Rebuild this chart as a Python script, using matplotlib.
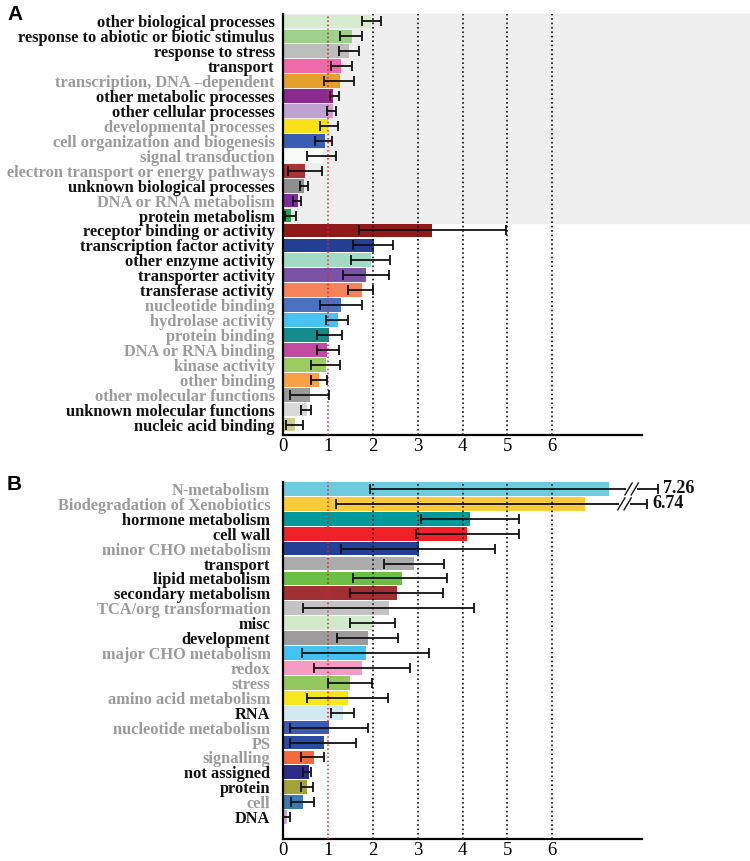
import matplotlib
import matplotlib.pyplot as plt
import numpy as np

matplotlib.use("Agg")

# ---- panel A data ----
a_labels = ['other biological processes', 'response to abiotic or biotic stimulus',
            'response to stress', 'transport', 'transcription, DNA \u2013dependent',
            'other metabolic processes', 'other cellular processes',
            'developmental processes', 'cell organization and biogenesis',
            'signal transduction', 'electron transport or energy pathways',
            'unknown biological processes', 'DNA or RNA metabolism', 'protein metabolism',
            'receptor binding or activity', 'transcription factor activity',
            'other enzyme activity', 'transporter activity', 'transferase activity',
            'nucleotide binding', 'hydrolase activity', 'protein binding',
            'DNA or RNA binding', 'kinase activity', 'other binding',
            'other molecular functions', 'unknown molecular functions', 'nucleic acid binding']
a_values = [1.96, 1.53, 1.47, 1.30, 1.27, 1.12, 1.11, 1.01, 0.93, 0.90, 0.50, 0.47, 0.33, 0.17,
            3.33, 2.03, 1.97, 1.86, 1.76, 1.29, 1.23, 1.03, 0.99, 0.96, 0.80, 0.60, 0.53, 0.27]
a_low = [1.76, 1.28, 1.25, 1.06, 0.91, 1.04, 0.98, 0.82, 0.72, 0.54, 0.12, 0.38, 0.23, 0.04,
         1.69, 1.56, 1.51, 1.33, 1.45, 0.82, 0.96, 0.75, 0.75, 0.62, 0.62, 0.16, 0.41, 0.06]
a_high = [2.18, 1.75, 1.69, 1.53, 1.58, 1.24, 1.18, 1.23, 1.09, 1.19, 0.86, 0.56, 0.41, 0.28,
          4.98, 2.45, 2.38, 2.36, 2.01, 1.75, 1.45, 1.32, 1.25, 1.28, 0.99, 1.02, 0.62, 0.45]
a_colors = ['#d6ebcf', '#9dd08b', '#bdbdbd', '#ef6aa8', '#e3a02c', '#8b2a8e', '#c0a2d2',
            '#f7e219', '#3a5db1', '#f8faf8', '#a83236', '#8e8e8e', '#7e2c9b', '#27a04a',
            '#8e1a1c', '#233f94', '#a3dac3', '#7a52a6', '#f4825a', '#4b70c0', '#46c3f1',
            '#158b8b', '#c04ba0', '#9ccb62', '#f7a046', '#9a9a9a', '#d9d9d9', '#cccc96']
a_gray = [0, 0, 0, 0, 1, 0, 0, 1, 1, 1, 1, 0, 1, 0,
          0, 0, 0, 0, 0, 1, 1, 1, 1, 1, 1, 1, 0, 0]
n_bio = 14

# ---- panel B data ----
b_labels = ['N-metabolism', 'Biodegradation of Xenobiotics', 'hormone metabolism', 'cell wall',
            'minor CHO metabolism', 'transport', 'lipid metabolism', 'secondary metabolism',
            'TCA/org transformation', 'misc', 'development', 'major CHO metabolism', 'redox',
            'stress', 'amino acid metabolism', 'RNA', 'nucleotide metabolism', 'PS',
            'signalling', 'not assigned', 'protein', 'cell', 'DNA']
b_values = [7.26, 6.74, 4.17, 4.11, 3.04, 2.93, 2.65, 2.54, 2.37, 1.98, 1.90, 1.85, 1.77,
            1.50, 1.44, 1.33, 1.03, 0.91, 0.68, 0.58, 0.54, 0.44, 0.10]
b_low = [1.93, 1.18, 3.07, 2.96, 1.29, 2.26, 1.56, 1.50, 0.45, 1.50, 1.20, 0.42, 0.69,
         1.00, 0.53, 1.06, 0.16, 0.16, 0.39, 0.45, 0.40, 0.17, 0.01]
b_high = [8.35, 8.11, 5.26, 5.26, 4.73, 3.59, 3.66, 3.56, 4.26, 2.49, 2.56, 3.26, 2.83,
          1.99, 2.33, 1.59, 1.90, 1.63, 0.92, 0.63, 0.66, 0.70, 0.16]
b_colors = ['#6ccbdc', '#fdcb3a', '#009a9a', '#ee2028', '#223f95', '#acacac', '#6cbf45',
            '#a03034', '#c3c3c3', '#d3e9cc', '#9b9b9b', '#42c3f1', '#f39bc3', '#92c95e',
            '#f7e81e', '#d2e9f1', '#3a5bb2', '#2b4aa2', '#f26a3a', '#2b2c88', '#a2a235',
            '#3a79b2', '#c4aada']
b_gray = [1, 1, 0, 0, 1, 0, 0, 0, 1, 0, 0, 1, 1, 1, 1, 0, 1, 1, 1, 0, 0, 1, 0]
b_broken = {0: (7.77, '7.26'), 1: (7.61, '6.74')}

ticks = [0, 1, 2, 3, 4, 5, 6]

fig = plt.figure(figsize=(7.5, 8.61), dpi=100)
axA = fig.add_axes([283 / 750, 1 - 435 / 861, 359 / 750, 421 / 861])
axB = fig.add_axes([283 / 750, 1 - 839 / 861, 359 / 750, 357.5 / 861])


def draw_panel(ax, labels, values, low, high, colors, gray, ylim, pad):
    y = np.arange(len(labels))
    ax.barh(y, values, height=0.92, color=colors, zorder=2)
    xerr = [np.array(values) - np.array(low), np.array(high) - np.array(values)]
    ax.errorbar(values, y, xerr=xerr, fmt='none', ecolor='#111111', elinewidth=1.3,
                capsize=3.6, capthick=1.3, zorder=5, clip_on=False)
    ax.axvline(1, color='#e8202a', linestyle=':', linewidth=1.1, zorder=4)
    for xv in ticks[2:]:
        ax.axvline(xv, color='#111111', linestyle=':', linewidth=1.2, zorder=4)
    ax.set_xlim(0, 8)
    ax.set_ylim(*ylim)
    ax.set_xticks(ticks)
    ax.set_xticklabels([str(t) for t in ticks], fontsize=13.5, family='Liberation Serif')
    ax.set_yticks(y)
    ax.set_yticklabels(labels, fontsize=11.8, family='Liberation Serif', fontweight='bold')
    for lab, g in zip(ax.get_yticklabels(), gray):
        lab.set_color('#9a9a9a' if g else '#111111')
    ax.tick_params(axis='both', length=0)
    ax.tick_params(axis='y', pad=pad)
    ax.tick_params(axis='x', pad=2)
    for s in ['top', 'right']:
        ax.spines[s].set_visible(False)
    ax.spines['left'].set_linewidth(1.6)
    ax.spines['bottom'].set_linewidth(1.6)
    ax.spines['left'].set_zorder(6)
    ax.patch.set_alpha(0)


draw_panel(axA, a_labels, a_values, a_low, a_high, a_colors, a_gray, (27.7, -0.5), 6)
axA.axhspan(-0.5, n_bio - 0.5, xmin=0, xmax=467 / 359, color='#eeeeee', zorder=0,
            clip_on=False)

draw_panel(axB, b_labels, b_values, b_low, b_high, b_colors, b_gray, (23.47, -0.5), 9)
for row, (xb, txt) in b_broken.items():
    axB.plot([xb - 0.12, xb + 0.12], [row, row], color='white', linewidth=3, zorder=6,
             clip_on=False, solid_capstyle='butt')
    for dx in (-0.07, 0.07):
        axB.plot([xb + dx - 0.08, xb + dx + 0.08], [row + 0.4, row - 0.4], color='#111111',
                 linewidth=1.0, zorder=7, clip_on=False)
    axB.text(b_high[row] + 0.12, row, txt, fontsize=13, family='Liberation Serif',
             fontweight='bold', va='center', ha='left', color='#111111')

fig.text(7 / 750, 1 - 14 / 861, 'A', fontsize=15, fontweight='bold',
         family='Liberation Sans', va='center', ha='left')
fig.text(7 / 750, 1 - 484 / 861, 'B', fontsize=15, fontweight='bold',
         family='Liberation Sans', va='center', ha='left')

fig.savefig('out.png', dpi=100)
